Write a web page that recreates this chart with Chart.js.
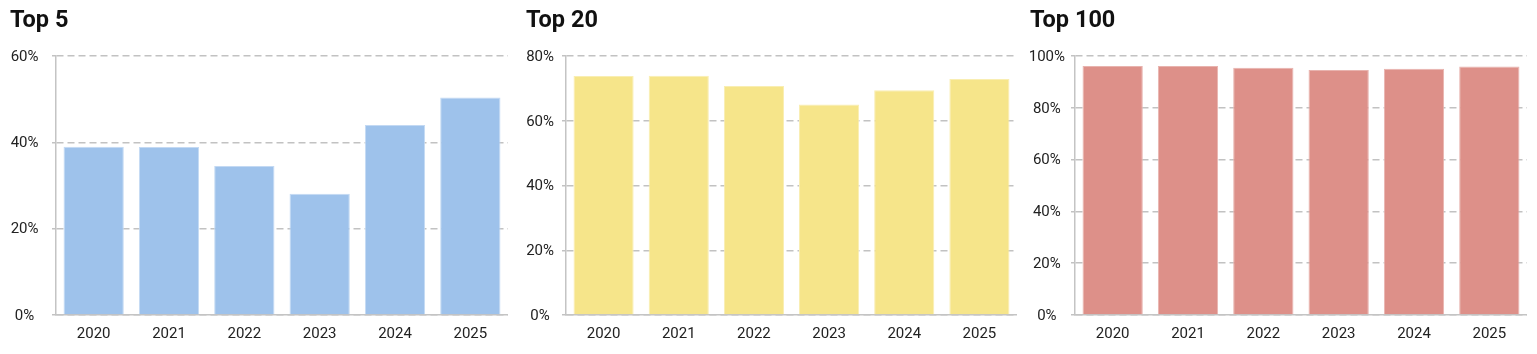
<!DOCTYPE html>
<html>
<head>
<meta charset="utf-8">
<script src="https://cdn.jsdelivr.net/npm/chart.js@4/dist/chart.umd.min.js"></script>
<style>
  html, body { margin: 0; padding: 0; background: #fff; }
  body { width: 1537px; height: 354px; position: relative; overflow: hidden; }
  .panel { position: absolute; top: 0; height: 354px; }
</style>
</head>
<body>
<div class="panel" id="p1" style="left:10px;width:498px;"><canvas id="c1"></canvas></div>
<div class="panel" id="p2" style="left:526px;width:491px;"><canvas id="c2"></canvas></div>
<div class="panel" id="p3" style="left:1030px;width:497px;"><canvas id="c3"></canvas></div>
<script>
const years = ['2020', '2021', '2022', '2023', '2024', '2025'];
const top5 = [39.0, 38.9, 34.5, 28.1, 44.0, 50.4];
const top20 = [73.8, 73.9, 70.7, 65.0, 69.4, 72.9];
const top100 = [96.1, 96.1, 95.5, 94.6, 95.1, 95.9];
const panelTitles = ['Top 5', 'Top 20', 'Top 100'];
const axisMax = [60, 80, 100];

const FONT = 'Roboto, "Noto Sans", sans-serif';

function makeChart(id, title, values, max, color, border, yAxisWidth, labelPad) {
  return new Chart(document.getElementById(id), {
    type: 'bar',
    data: {
      labels: years,
      datasets: [{
        data: values,
        backgroundColor: color,
        borderColor: border,
        borderWidth: 1,
        barPercentage: 0.8,
        categoryPercentage: 1.0
      }]
    },
    options: {
      responsive: true,
      maintainAspectRatio: false,
      animation: false,
      events: [],
      layout: { padding: { left: 0, right: 0, top: 0, bottom: 0 } },
      plugins: {
        legend: { display: false },
        tooltip: { enabled: false },
        title: {
          display: true,
          text: title,
          align: 'start',
          color: '#111',
          font: { family: FONT, size: 23.5, weight: 'bold' },
          padding: { top: 7.5, bottom: 20.3 }
        }
      },
      scales: {
        x: {
          grid: { display: false, drawTicks: false },
          border: { display: true, color: '#c4c4c4', width: 1.5 },
          ticks: { color: '#222', font: { family: FONT, size: 15 }, padding: 10 },
          afterFit: (s) => { s.height = 39; }
        },
        y: {
          min: 0,
          max: max,
          grid: {
            color: '#c2c2c2',
            lineWidth: 1.5,
            drawTicks: true,
            tickLength: 4
          },
          border: { display: true, color: '#c4c4c4', width: 1.5, dash: [7, 4] },
          ticks: {
            stepSize: 20,
            color: '#222',
            crossAlign: 'center',
            padding: labelPad,
            labelOffset: 1,
            font: { family: FONT, size: 15 },
            callback: (v) => v + '%'
          },
          afterFit: (s) => { s.width = yAxisWidth; }
        }
      }
    }
  });
}

makeChart('c1', panelTitles[0], top5, axisMax[0], '#9ec2eb', '#c3d9f3', 46, 13.5);
makeChart('c2', panelTitles[1], top20, axisMax[1], '#f6e58a', '#f9eeb2', 40, 8);
makeChart('c3', panelTitles[2], top100, axisMax[2], '#dd9089', '#e8b3ae', 45, 6);
</script>
</body>
</html>
